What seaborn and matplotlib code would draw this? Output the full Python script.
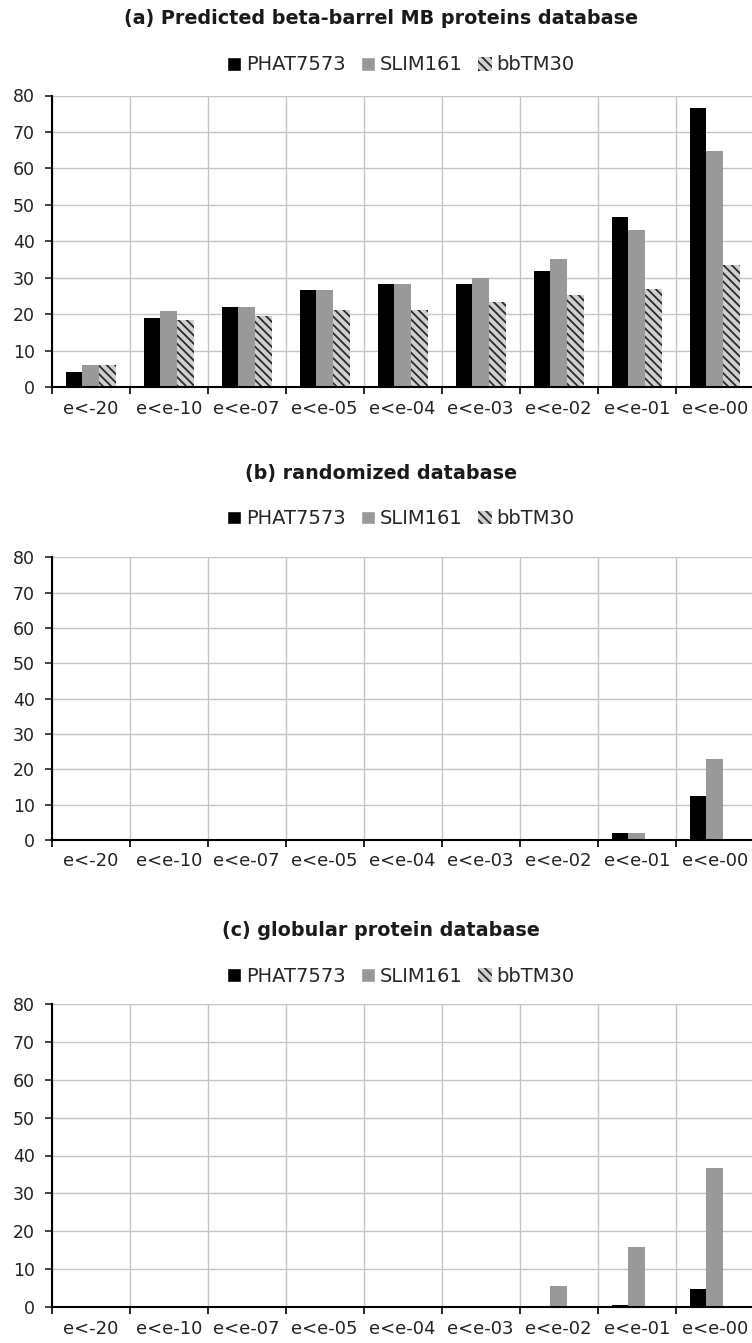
import numpy as np
import pandas as pd
import matplotlib
matplotlib.use("Agg")
import matplotlib.pyplot as plt
from matplotlib.patches import Patch
import seaborn as sns

# e-value thresholds and the three predictors
categories = ['e<-20', 'e<e-10', 'e<e-07', 'e<e-05', 'e<e-04',
              'e<e-03', 'e<e-02', 'e<e-01', 'e<e-00']
series = ['PHAT7573', 'SLIM161', 'bbTM30']

# (a) predicted beta-barrel MB proteins database
a_phat = [4, 19, 22, 26.7, 28.2, 28.2, 31.8, 46.7, 76.7]
a_slim = [6, 20.9, 22, 26.7, 28.2, 30, 35, 43, 64.8]
a_bbtm = [6.1, 18.5, 19.4, 21.1, 21.1, 23.4, 25.2, 27, 33.4]

# (b) randomized database
b_phat = [0, 0, 0, 0, 0, 0, 0, 1.9, 12.5]
b_slim = [0, 0, 0, 0, 0, 0, 0, 1.9, 23]
b_bbtm = [0, 0, 0, 0, 0, 0, 0, 0, 0]

# (c) globular protein database
c_phat = [0, 0, 0, 0, 0, 0, 0, 0.6, 4.7]
c_slim = [0, 0, 0, 0, 0, 0, 5.5, 15.9, 36.8]
c_bbtm = [0, 0, 0, 0, 0, 0, 0, 0, 0]

titles = ['(a) Predicted beta-barrel MB proteins database',
          '(b) randomized database',
          '(c) globular protein database']

colors = ['#000000', '#999999', '#d0d0d0']
hatch = '\\\\\\\\'

sns.set_style('white')
plt.rcParams['font.family'] = ['DejaVu Sans']
plt.rcParams['hatch.color'] = '#2a2a2a'
plt.rcParams['hatch.linewidth'] = 1.3

fig = plt.figure(figsize=(7.52, 13.43), dpi=100)
H = 1343.0
W = 752.0

# axes boxes in pixels: (top, bottom)
boxes = [(95.5, 387), (557.5, 840), (1004, 1307)]
title_y = [19, 473, 930]
legend_y = [65, 519, 976]
panels = [(a_phat, a_slim, a_bbtm), (b_phat, b_slim, b_bbtm), (c_phat, c_slim, c_bbtm)]

for i, (vals, (top, bot)) in enumerate(zip(panels, boxes)):
    ax = fig.add_axes([51.7 / W, (H - bot) / H, 702 / W, (bot - top) / H])
    df = pd.DataFrame({
        'range': categories * 3,
        'series': [s for s in series for _ in categories],
        'value': list(vals[0]) + list(vals[1]) + list(vals[2]),
    })
    sns.barplot(data=df, x='range', y='value', hue='series', order=categories,
                hue_order=series, palette=colors, saturation=1, width=0.64,
                linewidth=0, legend=False, ax=ax)
    for bar in ax.containers[2]:
        bar.set_hatch(hatch)
        bar.set_edgecolor('#2a2a2a')
        bar.set_linewidth(0)

    ax.set_ylim(0, 80)
    ax.set_yticks(range(0, 81, 10))
    ax.set_xlim(-0.5, 8.5)
    ax.set_xticks(range(len(categories)))
    ax.set_xticklabels(categories)
    ax.set_xticks(np.arange(-0.5, 9, 1), minor=True)
    ax.set_xlabel('')
    ax.set_ylabel('')
    ax.set_axisbelow(True)
    ax.grid(True, axis='y', which='major', color='#c4c4c4', lw=1)
    ax.grid(True, axis='x', which='minor', color='#c4c4c4', lw=1)
    ax.grid(False, axis='x', which='major')
    ax.tick_params(axis='x', which='major', length=0, pad=9, labelsize=13, colors='#222222')
    ax.tick_params(axis='x', which='minor', length=5, width=1.2, direction='out', color='black', bottom=True)
    ax.tick_params(axis='y', length=5, width=1.2, direction='out', pad=7, labelsize=12.5,
                   colors='#222222', left=True)
    for s in ['top', 'right']:
        ax.spines[s].set_visible(False)
    for s in ['left', 'bottom']:
        ax.spines[s].set_color('black')
        ax.spines[s].set_linewidth(1.5)

    fig.text(381 / W, 1 - title_y[i] / H, titles[i], ha='center', va='center',
             fontsize=13.8, fontweight='bold', color='#1a1a1a')
    handles = [Patch(facecolor=colors[0]), Patch(facecolor=colors[1]),
               Patch(facecolor=colors[2], hatch=hatch, edgecolor='#2a2a2a', linewidth=0)]
    fig.legend(handles, series, loc='center', bbox_to_anchor=(401 / W, 1 - legend_y[i] / H),
               ncol=3, frameon=False, fontsize=14, handlelength=0.7, handleheight=0.7,
               handletextpad=0.25, columnspacing=0.8, borderpad=0)

fig.savefig('out.png', dpi=100)
